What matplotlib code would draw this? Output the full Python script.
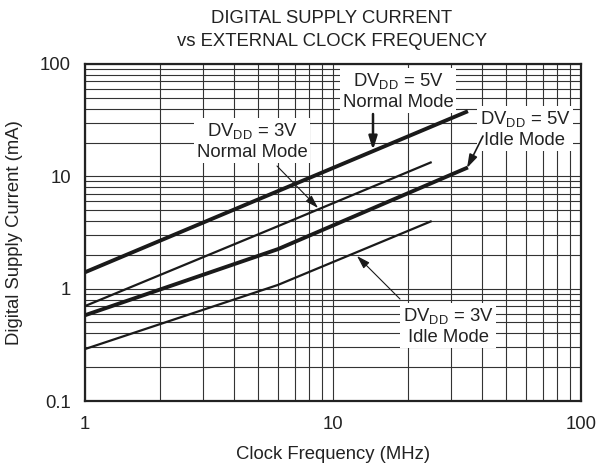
import matplotlib
matplotlib.use("Agg")
import matplotlib.pyplot as plt
from matplotlib.ticker import LogLocator, FixedLocator, NullFormatter

plt.rcParams['font.family'] = ['Liberation Sans', 'DejaVu Sans']
FS = 13.3

# data (MHz, mA)
freq_5v_normal = [1, 35]
curr_5v_normal = [1.4, 38]
freq_3v_normal = [1, 6, 25]
curr_3v_normal = [0.7, 3.6, 13.4]
freq_5v_idle = [1, 6, 35]
curr_5v_idle = [0.58, 2.25, 12]
freq_3v_idle = [1, 6, 25]
curr_3v_idle = [0.29, 1.08, 4.0]

x_ticks = [1, 10, 100]
x_ticklabels = ['1', '10', '100']
y_ticks = [0.1, 1, 10, 100]
y_ticklabels = ['0.1', '1', '10', '100']

fig = plt.figure(figsize=(5.99, 4.67), dpi=100)
ax = fig.add_axes([85 / 599, 1 - 401 / 467, 496 / 599, 337 / 467])
ax.set_xscale('log')
ax.set_yscale('log')
ax.set_xlim(1, 100)
ax.set_ylim(0.1, 100)

ax.grid(True, which='both', color='#333333', linewidth=0.8)
ax.set_axisbelow(True)
ax.tick_params(which='both', length=0)
ax.xaxis.set_major_locator(FixedLocator(x_ticks))
ax.yaxis.set_major_locator(FixedLocator(y_ticks))
ax.xaxis.set_minor_locator(LogLocator(base=10, subs=range(2, 10)))
ax.yaxis.set_minor_locator(LogLocator(base=10, subs=range(2, 10)))
ax.xaxis.set_minor_formatter(NullFormatter())
ax.yaxis.set_minor_formatter(NullFormatter())
ax.set_xticklabels(x_ticklabels, fontsize=FS, color='#222222')
ax.set_yticklabels(y_ticklabels, fontsize=FS, color='#222222')
ax.tick_params(axis='x', pad=11)
ax.tick_params(axis='y', pad=10)
for s in ax.spines.values():
    s.set_linewidth(1.6)
    s.set_color('#222222')

ax.plot(freq_5v_normal, curr_5v_normal, color='#1a1a1a', lw=2.8, solid_capstyle='butt', zorder=3)
ax.plot(freq_3v_normal, curr_3v_normal, color='#1a1a1a', lw=1.6, solid_capstyle='butt', zorder=3)
ax.plot(freq_5v_idle, curr_5v_idle, color='#1a1a1a', lw=2.8, solid_capstyle='butt', zorder=3)
ax.plot(freq_3v_idle, curr_3v_idle, color='#1a1a1a', lw=1.6, solid_capstyle='butt', zorder=3)

ax.set_xlabel('Clock Frequency (MHz)', fontsize=FS, color='#222222', labelpad=9)
ax.set_ylabel('Digital Supply Current (mA)', fontsize=FS, color='#222222', labelpad=12)
fig.text(332 / 599, 1 - 30 / 467, 'DIGITAL SUPPLY CURRENT\nvs EXTERNAL CLOCK FREQUENCY',
         ha='center', va='center', fontsize=FS, color='#222222', linespacing=1.5)

box = dict(boxstyle='square,pad=0.12', fc='white', ec='none')


def px(x, y):
    # figure pixel -> figure fraction
    return (x / 599, 1 - y / 467)


def label(text, pos, tail, head, lw):
    ax.text(*px(*pos), text, transform=fig.transFigure, ha='center', va='center',
            fontsize=FS, color='#222222', bbox=box, linespacing=1.2, zorder=5)
    ax.annotate('', xy=px(*head), xycoords='figure fraction',
                xytext=px(*tail), textcoords='figure fraction',
                arrowprops=dict(arrowstyle='-|>,head_length=0.8,head_width=0.25',
                                color='#1a1a1a', lw=lw, shrinkA=0, shrinkB=0), zorder=6)


label('DV$_{\\mathregular{DD}}$ = 5V\nNormal Mode', (398, 91), (373, 114), (373, 150), 1.8)
label('DV$_{\\mathregular{DD}}$ = 5V\nIdle Mode', (525, 129), (483, 136), (467, 168), 1.2)
label('DV$_{\\mathregular{DD}}$ = 3V\nNormal Mode', (252, 141), (277, 166), (318, 208), 0.8)
label('DV$_{\\mathregular{DD}}$ = 3V\nIdle Mode', (448, 326), (400, 299), (357, 256), 0.8)

fig.savefig('out.png', dpi=100)
